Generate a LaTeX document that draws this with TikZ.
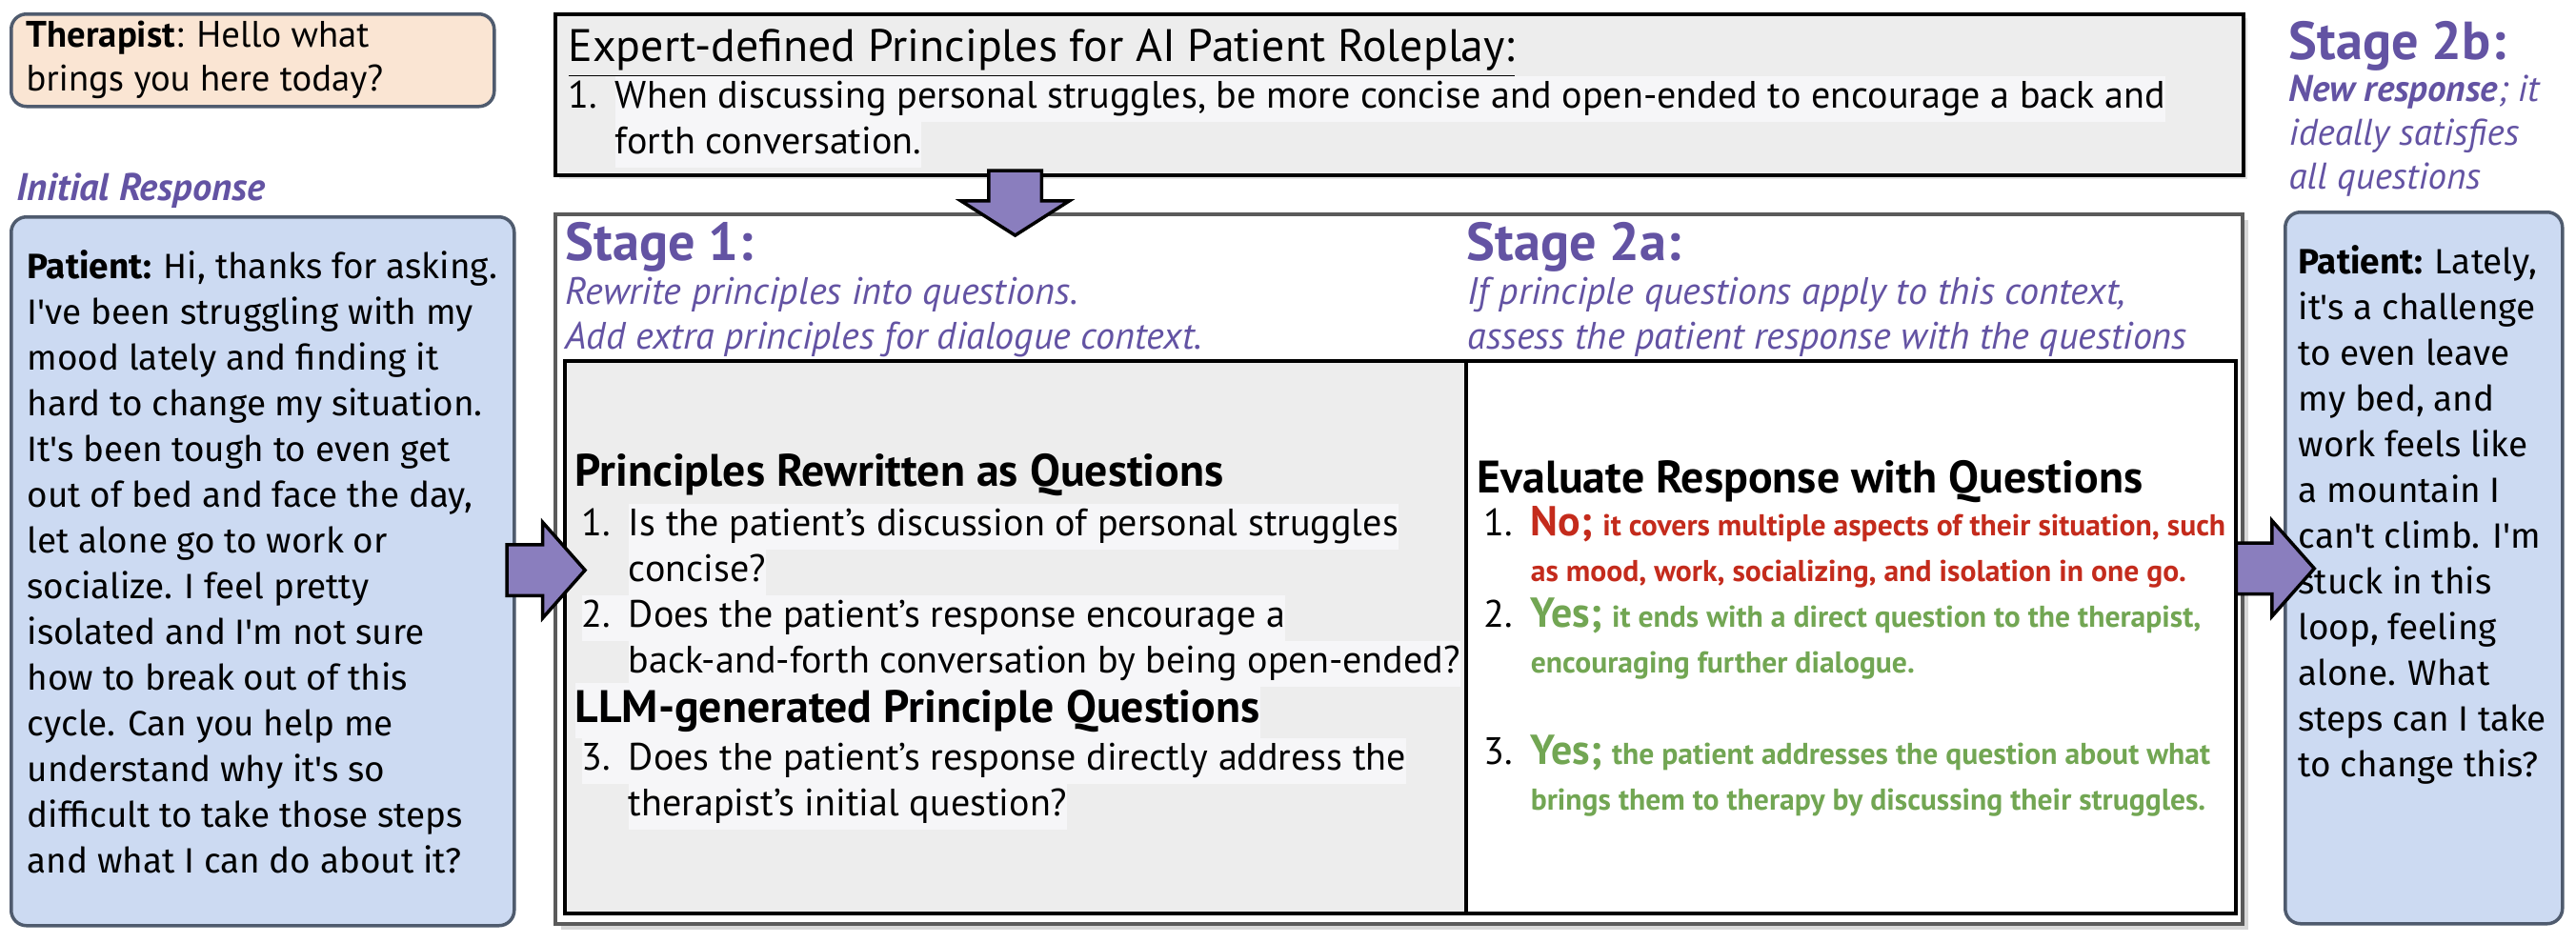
\documentclass[tikz,border=0pt]{standalone}
\usepackage{fontspec}
\setmainfont{PT Sans}
\newfontfamily\chatfont{Fira Sans}
\usetikzlibrary{positioning, calc, shapes.arrows, shadows}

\definecolor{stagepurple}{HTML}{6353A3}
\definecolor{arrowpurple}{HTML}{8A7EBE}
\definecolor{therapistpeach}{HTML}{FAE5D3}
\definecolor{patientblue}{HTML}{CCDAF2}
\definecolor{slate}{HTML}{4F5B6E}
\definecolor{panelgrey}{HTML}{EDEDED}
\definecolor{hlgrey}{HTML}{F6F6F8}
\definecolor{nored}{HTML}{C42B1C}
\definecolor{yesgreen}{HTML}{72A653}
\definecolor{framegrey}{HTML}{5A5A5A}

\newcommand{\hl}[1]{{\setlength{\fboxsep}{0pt}\colorbox{hlgrey}{\strut #1}}}
\newcommand{\itemno}[1]{\makebox[14pt][l]{#1}}
\newcommand{\itemgap}{\hspace*{14pt}}
\newcommand{\verdict}[3]{{\color{#1}\bfseries{\fontsize{12.5}{13.66}\selectfont #2;} \fontsize{9}{13.66}\selectfont #3}}
\newcommand{\verdictmore}[2]{{\color{#1}\bfseries\fontsize{9}{13.66}\selectfont #2}}

\tikzset{
  body/.style={font=\fontsize{11.4}{13.66}\selectfont, align=left, inner sep=0pt,
    anchor=north west, execute at begin node=\strut},
  chattext/.style={body, font=\chatfont\fontsize{10.5}{13.66}\selectfont},
  chatbox/.style={draw=slate, fill=#1, line width=1pt, rounded corners=0.16cm,
    anchor=north west, inner sep=0pt},
  panel/.style={draw=black, fill=#1, line width=1pt, anchor=north west, inner sep=0pt},
  panel/.default=white,
  stagebox/.style={draw=framegrey, fill=white, line width=1.1pt, anchor=north west,
    inner sep=0pt, drop shadow={opacity=0.3, shadow xshift=0.06cm, shadow yshift=-0.06cm}},
  stagelab/.style={font=\fontsize{16}{19}\selectfont\bfseries, text=stagepurple,
    inner sep=0pt, anchor=base west},
  stagesub/.style={body, font=\fontsize{11.4}{13.4}\selectfont\itshape, text=stagepurple},
  heading/.style={font=\fontsize{13.6}{16.5}\selectfont\bfseries, inner sep=0pt, anchor=base west},
  blockarrow/.style={single arrow, draw=black, fill=arrowpurple, line width=1pt,
    inner xsep=0pt, inner ysep=0.25cm, minimum height=0.82cm, minimum width=0.97cm,
    single arrow head extend=0.235cm, single arrow tip angle=97}
}

\begin{document}
\begin{tikzpicture}
  \useasboundingbox (0,0) rectangle (27.04,-9.90);
  \fill[white] (0,0) rectangle (27.04,-9.90);

  % dialogue boxes
  \node[chatbox=therapistpeach, minimum width=5.07cm, minimum height=0.97cm] (ther) at (0.10,-0.13) {};
  \node[body, below right=0.08cm and 0.17cm of ther.north west,
    font=\fontsize{11}{13.1}\selectfont] (thertext)
    {\textbf{Therapist}: Hello what\\brings you here today?};
  \node[font=\fontsize{11.5}{14}\selectfont\bfseries\itshape, text=stagepurple,
    inner sep=0pt, anchor=base west] (initlab) at (0.17,-2.10) {Initial Response};
  \node[chatbox=patientblue, minimum width=5.28cm, minimum height=7.44cm] (init) at (0.10,-2.26) {};
  \node[chattext, below right=0.36cm and 0.18cm of init.north west] (inittext)
    {\textbf{Patient:} Hi, thanks for asking.\\
     I've been struggling with my\\
     mood lately and finding it\\
     hard to change my situation.\\
     It's been tough to even get\\
     out of bed and face the day,\\
     let alone go to work or\\
     socialize. I feel pretty\\
     isolated and I'm not sure\\
     how to break out of this\\
     cycle. Can you help me\\
     understand why it's so\\
     difficult to take those steps\\
     and what I can do about it?};

  % principles from the experts
  \node[panel=panelgrey, minimum width=17.72cm, minimum height=1.69cm,
    drop shadow={opacity=0.2, shadow xshift=0.04cm, shadow yshift=-0.04cm}] (princ) at (5.81,-0.13) {};
  \node[body] (princitem) at (5.96,-0.79)
    {\itemno{1.}\hl{When discussing personal struggles, be more concise and open-ended to encourage a back and}\\
     \itemgap\hl{forth conversation.}};
  \node[font=\fontsize{13.6}{16}\selectfont, inner sep=0pt, anchor=base west] (princtitle)
    at (5.96,-0.65) {\underline{Expert-defined Principles for AI Patient Roleplay:}};

  % stages 1 and 2a
  \node[stagebox, minimum width=17.71cm, minimum height=7.45cm] (stage) at (5.81,-2.23) {};
  \node[panel=panelgrey, minimum width=9.46cm, minimum height=5.80cm] (qpanel) at (5.91,-3.77) {};
  \node[panel, minimum width=8.08cm, minimum height=5.80cm] (epanel) at (15.37,-3.77) {};

  \node[stagelab] (s1) at (5.93,-2.73) {Stage 1:};
  \node[stagesub] (s1sub) at (5.93,-2.90)
    {Rewrite principles into questions.\\Add extra principles for dialogue context.};
  \node[stagelab] (s2a) at (15.39,-2.73) {Stage 2a:};
  \node[stagesub] (s2asub) at (15.40,-2.90)
    {If principle questions apply to this context,\\assess the patient response with the questions};

  \node[heading] (qhead) at (6.03,-5.10) {Principles Rewritten as Questions};
  \node[body] (qlist) at (6.10,-5.28)
    {\itemno{1.}\hl{Is the patient's discussion of personal struggles}\\
     \itemgap\hl{concise?}\\
     \hl{\itemno{2.}Does the patient's response encourage a}\\
     \itemgap\hl{back-and-forth conversation by being open-ended?}};
  \node[heading] (llmhead) at (6.03,-7.58) {\hl{LLM-generated Principle Questions}};
  \node[body] (llmlist) at (6.10,-7.74)
    {\hl{\itemno{3.}Does the patient's response directly address the}\\
     \itemgap\hl{therapist's initial question?}};

  \node[heading] (ehead) at (15.50,-5.17) {Evaluate Response with Questions};
  \node[body] (elist) at (15.57,-5.31)
    {\itemno{1.}\verdict{nored}{No}{it covers multiple aspects of their situation, such}\\
     \itemgap\verdictmore{nored}{as mood, work, socializing, and isolation in one go.}\\
     \itemno{2.}\verdict{yesgreen}{Yes}{it ends with a direct question to the therapist,}\\
     \itemgap\verdictmore{yesgreen}{encouraging further dialogue.}\\[0.48cm]
     \itemno{3.}\verdict{yesgreen}{Yes}{the patient addresses the question about what}\\
     \itemgap\verdictmore{yesgreen}{brings them to therapy by discussing their struggles.}};

  % stage 2b
  \node[stagelab] (s2b) at (24.02,-0.62) {Stage 2b:};
  \node[stagesub, font=\fontsize{11.1}{13.1}\selectfont\itshape] (s2bsub) at (24.02,-0.78)
    {\textbf{New response}; it\\ideally satisfies\\all questions};
  \node[chatbox=patientblue, minimum width=2.91cm, minimum height=7.47cm] (newresp) at (23.97,-2.21) {};
  \node[chattext, below right=0.36cm and 0.15cm of newresp.north west] (newtext)
    {\textbf{Patient:} Lately,\\
     it's a challenge\\
     to even leave\\
     my bed, and\\
     work feels like\\
     a mountain I\\
     can't climb. I'm\\
     stuck in this\\
     loop, feeling\\
     alone. What\\
     steps can I take\\
     to change this?};

  % block arrows
  \node[blockarrow] (toStage) at ($(init.east)!0.5!(stage.west)$) {};
  \node[blockarrow] (toNew) at ($(stage.east)!0.5!(newresp.west)$) {};
  \node[blockarrow, rotate=-90, minimum height=0.68cm, minimum width=1.10cm, inner ysep=0.26cm,
    single arrow head extend=0.29cm, single arrow tip angle=115] (down)
    at ($($(princ.south)!0.5!(stage.north)$)+(-4.03,0)$) {};
\end{tikzpicture}
\end{document}
